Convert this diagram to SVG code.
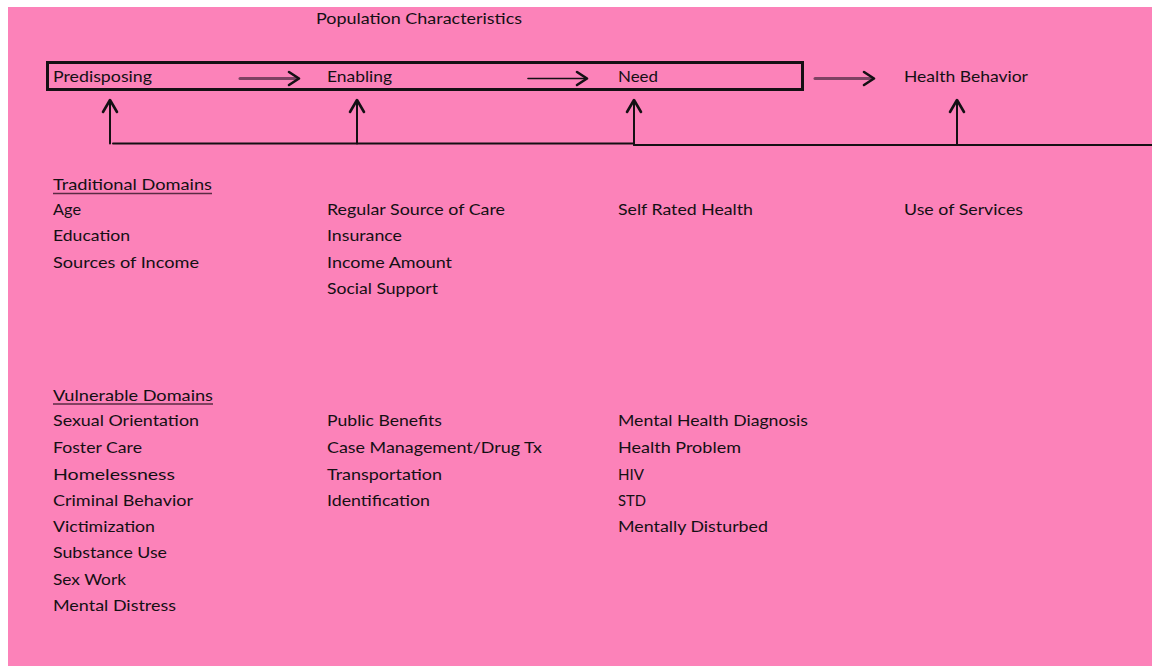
<svg xmlns="http://www.w3.org/2000/svg" width="1152" height="666" viewBox="0 0 1152 666">
  <defs>
    <style>
      text { font-family: Lato, "Liberation Sans", Arial, sans-serif; font-size: 15px; fill: #141014; }
      .ul { stroke: #5a2a44; stroke-width: 1.6; }
      .conn { fill: none; stroke: #141014; stroke-linecap: round; stroke-linejoin: round; }
      .shaft { stroke-width: 1.6; }
      .shaft2 { stroke: #7e4263; stroke-width: 3; }
      .head { stroke-width: 2.6; }
    </style>
  </defs>
  <rect x="0" y="0" width="1152" height="666" fill="#ffffff"/>
  <rect x="8" y="7" width="1144" height="659" fill="#FC82B9"/>

  <g id="population-characteristics">
    <text x="316" y="24" textLength="206" lengthAdjust="spacingAndGlyphs">Population Characteristics</text>
    <rect x="47.5" y="62.5" width="755" height="27" fill="none" stroke="#141014" stroke-width="3"/>
  </g>

  <g id="predisposing">
    <text x="53" y="82" textLength="99" lengthAdjust="spacingAndGlyphs">Predisposing</text>
  </g>
  <g id="enabling">
    <text x="327" y="82" textLength="65" lengthAdjust="spacingAndGlyphs">Enabling</text>
  </g>
  <g id="need">
    <text x="618" y="82" textLength="40" lengthAdjust="spacingAndGlyphs">Need</text>
  </g>
  <g id="health-behavior">
    <text x="904" y="82" textLength="124" lengthAdjust="spacingAndGlyphs">Health Behavior</text>
  </g>

  <g id="connectors">
    <line class="conn shaft2" x1="240" y1="78.5" x2="297" y2="78.5"/>
    <polyline class="conn head" points="289,72 299,78.5 289,85"/>
    <line class="conn shaft" x1="528" y1="78.5" x2="585" y2="78.5"/>
    <polyline class="conn head" points="577,72 587,78.5 577,85"/>
    <line class="conn shaft2" x1="815" y1="78.5" x2="872" y2="78.5"/>
    <polyline class="conn head" points="864,72 874,78.5 864,85"/>

    <line class="conn" stroke-width="2" x1="113" y1="143.5" x2="634" y2="143.5"/>
    <line class="conn" stroke-width="2" x1="634" y1="145" x2="1152" y2="145"/>

    <line class="conn" stroke-width="2" x1="110" y1="143.5" x2="110" y2="101"/>
    <polyline class="conn head" points="103,112 110,100 117,112"/>
    <line class="conn" stroke-width="2" x1="357" y1="143.5" x2="357" y2="101"/>
    <polyline class="conn head" points="350,112 357,100 364,112"/>
    <line class="conn" stroke-width="2" x1="634" y1="145" x2="634" y2="101"/>
    <polyline class="conn head" points="627,112 634,100 641,112"/>
    <line class="conn" stroke-width="2" x1="957" y1="145" x2="957" y2="101"/>
    <polyline class="conn head" points="950,112 957,100 964,112"/>
  </g>

  <g id="traditional-domains">
    <text x="53" y="190" textLength="159" lengthAdjust="spacingAndGlyphs">Traditional Domains</text>
    <line class="ul" x1="53" y1="193.5" x2="212" y2="193.5"/>
    <text x="53" y="215" textLength="28" lengthAdjust="spacingAndGlyphs">Age</text>
    <text x="53" y="241" textLength="77" lengthAdjust="spacingAndGlyphs">Education</text>
    <text x="53" y="268" textLength="146" lengthAdjust="spacingAndGlyphs">Sources of Income</text>
  </g>

  <g id="enabling-traditional">
    <text x="327" y="215" textLength="178" lengthAdjust="spacingAndGlyphs">Regular Source of Care</text>
    <text x="327" y="241" textLength="75" lengthAdjust="spacingAndGlyphs">Insurance</text>
    <text x="327" y="268" textLength="125" lengthAdjust="spacingAndGlyphs">Income Amount</text>
    <text x="327" y="294" textLength="111" lengthAdjust="spacingAndGlyphs">Social Support</text>
  </g>

  <g id="need-traditional">
    <text x="618" y="215" textLength="135" lengthAdjust="spacingAndGlyphs">Self Rated Health</text>
  </g>

  <g id="health-behavior-traditional">
    <text x="904" y="215" textLength="119" lengthAdjust="spacingAndGlyphs">Use of Services</text>
  </g>

  <g id="vulnerable-domains">
    <text x="53" y="401" textLength="160" lengthAdjust="spacingAndGlyphs">Vulnerable Domains</text>
    <line class="ul" x1="53" y1="404" x2="213" y2="404"/>
    <text x="53" y="426" textLength="146" lengthAdjust="spacingAndGlyphs">Sexual Orientation</text>
    <text x="53" y="453" textLength="89" lengthAdjust="spacingAndGlyphs">Foster Care</text>
    <text x="53" y="480" textLength="122" lengthAdjust="spacingAndGlyphs">Homelessness</text>
    <text x="53" y="506" textLength="140" lengthAdjust="spacingAndGlyphs">Criminal Behavior</text>
    <text x="53" y="532" textLength="102" lengthAdjust="spacingAndGlyphs">Victimization</text>
    <text x="53" y="558" textLength="114" lengthAdjust="spacingAndGlyphs">Substance Use</text>
    <text x="53" y="585" textLength="73" lengthAdjust="spacingAndGlyphs">Sex Work</text>
    <text x="53" y="611" textLength="123" lengthAdjust="spacingAndGlyphs">Mental Distress</text>
  </g>

  <g id="enabling-vulnerable">
    <text x="327" y="426" textLength="115" lengthAdjust="spacingAndGlyphs">Public Benefits</text>
    <text x="327" y="453" textLength="215" lengthAdjust="spacingAndGlyphs">Case Management/Drug Tx</text>
    <text x="327" y="480" textLength="115" lengthAdjust="spacingAndGlyphs">Transportation</text>
    <text x="327" y="506" textLength="103" lengthAdjust="spacingAndGlyphs">Identification</text>
  </g>

  <g id="need-vulnerable">
    <text x="618" y="426" textLength="190" lengthAdjust="spacingAndGlyphs">Mental Health Diagnosis</text>
    <text x="618" y="453" textLength="123" lengthAdjust="spacingAndGlyphs">Health Problem</text>
    <text x="618" y="480" textLength="26" lengthAdjust="spacingAndGlyphs">HIV</text>
    <text x="618" y="506" textLength="28" lengthAdjust="spacingAndGlyphs">STD</text>
    <text x="618" y="532" textLength="150" lengthAdjust="spacingAndGlyphs">Mentally Disturbed</text>
  </g>
</svg>
